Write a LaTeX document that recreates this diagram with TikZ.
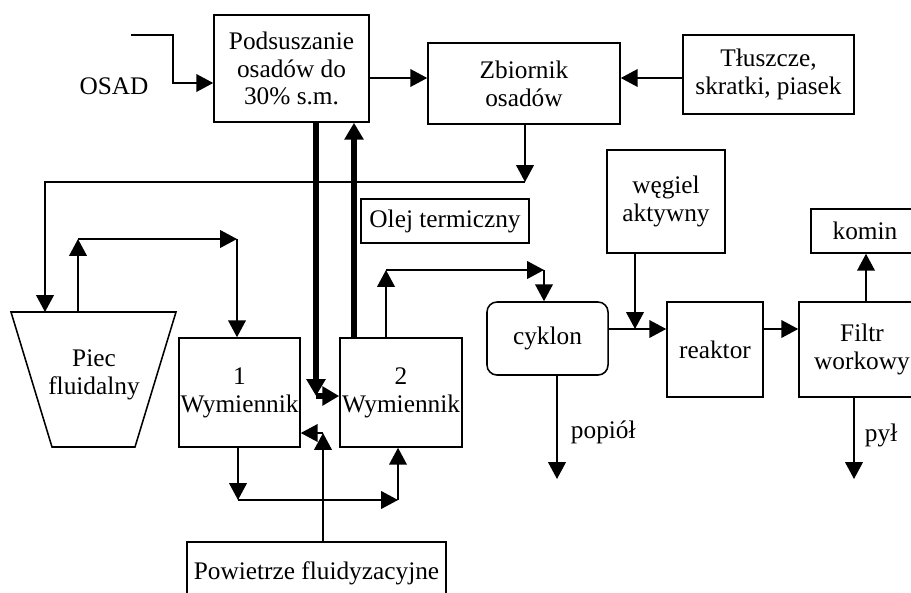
\documentclass[tikz,border=0pt]{standalone}
\usepackage{fontspec}
\setmainfont{Liberation Serif}
\usetikzlibrary{arrows.meta}

\begin{document}
\begin{tikzpicture}[
  x=0.025cm, y=-0.025cm,
  font=\fontsize{18}{19.8}\selectfont,
  box/.style={draw, line width=1.1pt, align=center, inner sep=0pt},
  ar/.style={-{Triangle[length=0.42cm, width=0.44cm]}, line width=1.1pt},
  thk/.style={-{Triangle[length=0.42cm, width=0.46cm]}, line width=4.3pt},
]
\useasboundingbox (0,0) rectangle (911,592);

\node[box, minimum width=3.875cm, minimum height=2.675cm] (pods)   at (291.5,68.5) {Podsuszanie\\osadów do\\30\% s.m.};
\node[box, minimum width=4.8cm,   minimum height=2.025cm] (zbior)  at (524,83.5)   {Zbiornik\\osadów};
\node[box, minimum width=4.275cm, minimum height=1.975cm] (tlusz)  at (768.5,74.5) {Tłuszcze,\\skratki, piasek};
\node[box, minimum width=4.2cm,   minimum height=1.1cm]   (olej)   at (445,221)    {Olej termiczny};
\node[box, minimum width=2.95cm,  minimum height=2.575cm] (wegiel) at (666,201.5)  {węgiel\\aktywny};
\node[box, minimum width=2.7cm,   minimum height=1.1cm]   (komin)  at (865,231)    {komin};
\node[box, minimum width=3.025cm, minimum height=2.725cm] (w1)     at (239.5,392.5) {1\\Wymiennik};
\node[box, minimum width=3.05cm,  minimum height=2.725cm] (w2)     at (401,392.5)  {2\\Wymiennik};
\node[box, rounded corners=0.25cm, minimum width=3.025cm, minimum height=1.825cm] (cyklon) at (547.5,338.5) {cyklon};
\node[box, minimum width=2.4cm,   minimum height=2.375cm] (reaktor) at (715,349.5) {reaktor};
\node[box, minimum width=3.15cm,  minimum height=2.375cm] (filtr)  at (862,349.5)  {Filtr\\workowy};
\node[box, minimum width=6.475cm, minimum height=1.55cm]  (pow)    at (316.5,573)  {Powietrze fluidyzacyjne};

\draw[line width=1.1pt] (11,312) -- (176,312) -- (135,447) -- (52,447) -- cycle;
\node[align=center] (piec) at (94,375) {Piec\\fluidalny};

\node (osad) at (114,86) {OSAD};
\node[anchor=west] (popiol) at (566,432) {popiół};
\node[anchor=west] (pyl) at (860,435) {pył};

\coordinate (osadin) at (131,35);
\coordinate (osadbend) at (173,83);
\coordinate (zbturn) at (525,182);
\coordinate (piecin) at (45,312);
\coordinate (piecout) at (78,312);
\coordinate (pu1) at (78,239);
\coordinate (pu2) at (237,239);
\coordinate (thkturn) at (316,396);
\coordinate (wu1) at (386,270);
\coordinate (wu2) at (544,270);
\coordinate (wd1) at (238,500);
\coordinate (wd2) at (398,500);
\coordinate (powturn) at (323,433);
\coordinate (wegin) at (635,329);
\coordinate (popend) at (557,479);
\coordinate (pylend) at (854,479);

\draw[ar] (osadin) -| (osadbend) -- (osadbend -| pods.west);
\draw[ar] (pods.east |- 0,78) -- (zbior.west |- 0,78);
\draw[ar] (tlusz.west |- 0,78) -- (zbior.east |- 0,78);
\draw[ar] (zbior.south -| zbturn) -- (zbturn);
\draw[ar] (zbturn) -- (zbturn -| piecin) -- (piecin);

\draw[thk] (pods.south -| thkturn) -- (thkturn);
\draw[thk] (thkturn) -- (thkturn -| w2.west);
\draw[thk] (w2.north -| 354,0) -- (pods.south -| 354,0);

\draw[ar] (piecout) -- (pu1);
\draw[ar] (pu1) -- (pu2);
\draw[ar] (pu2) -- (pu2 |- w1.north);

\draw[ar] (w2.north -| wu1) -- (wu1);
\draw[ar] (wu1) -- (wu2);
\draw[ar] (wu2) -- (wu2 |- cyklon.north);

\draw[ar] (w1.south -| wd1) -- (wd1);
\draw[ar] (wd1) -- (wd2);
\draw[ar] (wd2) -- (wd2 |- w2.south);

\draw[ar] (pow.north -| powturn) -- (powturn);
\draw[ar] (powturn) -- (powturn -| w1.east);

\draw[ar] (cyklon.east |- wegin) -- (reaktor.west |- wegin);
\draw[ar] (wegiel.south -| wegin) -- (wegin);
\draw[ar] (reaktor.east |- wegin) -- (filtr.west |- wegin);
\draw[ar] (filtr.north -| 866,0) -- (komin.south -| 866,0);
\draw[ar] (cyklon.south -| popend) -- (popend);
\draw[ar] (filtr.south -| pylend) -- (pylend);
\end{tikzpicture}
\end{document}
